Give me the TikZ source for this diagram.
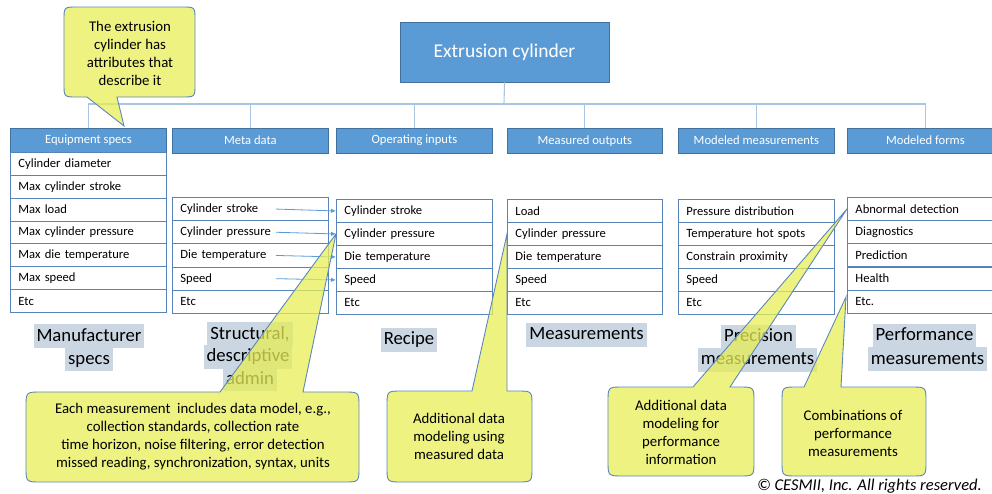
\documentclass[tikz,border=0pt]{standalone}
\usepackage{fontspec}
\setmainfont{Carlito}
\usetikzlibrary{arrows.meta,calc}
\definecolor{hdrblue}{HTML}{5B9BD5}
\definecolor{hdrline}{HTML}{41719C}
\definecolor{treeline}{HTML}{A9C5E2}
\definecolor{rowline}{HTML}{5683B8}
\definecolor{tagbg}{HTML}{CAD6E2}
\definecolor{notefill}{HTML}{E8EE56}
\definecolor{noteline}{HTML}{5B87BD}
\definecolor{linkblue}{HTML}{5B9BD5}
\begin{document}
\begin{tikzpicture}[x=1pt,y=-1pt,
  topbox/.style={draw=hdrline,fill=hdrblue,line width=0.8pt,text=white,
    minimum width=209pt,minimum height=60pt,inner sep=0pt,
    font=\fontsize{19.5pt}{23pt}\selectfont},
  hdr/.style={draw=hdrline,fill=hdrblue,line width=0.8pt,text=white,anchor=north west,
    minimum width=156pt,minimum height=24.5pt,inner sep=0pt,
    font=\fontsize{12.6pt}{15pt}\selectfont},
  row/.style={draw=rowline,fill=white,line width=0.9pt,anchor=north west,
    text width=140pt,inner xsep=8pt,inner ysep=0pt,minimum height=23pt,align=left,
    font=\fontsize{12.6pt}{15pt}\selectfont},
  tree/.style={draw=treeline,line width=1.1pt},
  link/.style={draw=linkblue,line width=0.8pt,-{Latex[length=5pt,width=4.5pt]}},
  tag/.style={fill=tagbg,inner xsep=3pt,inner ysep=1pt,text height=16pt,text depth=6pt,
    font=\fontsize{18.7pt}{22pt}\selectfont},
  note/.style={fill=notefill,fill opacity=0.75,draw=noteline,line width=0.9pt},
  notetext/.style={align=center,text=black,font=\fontsize{14.8pt}{18pt}\selectfont}]

\useasboundingbox (0,0) rectangle (992,493);
\clip (0,0) rectangle (992,493);

% root of the tree
\node[topbox] (top) at (504.5,52) {Extrusion cylinder};

% category headers
\node[hdr] (h1) at (10,128) {Equipment specs};
\node[hdr] (h2) at (172,128) {Meta data};
\node[hdr] (h3) at (336,128) {Operating inputs};
\node[hdr,minimum width=155pt] (h4) at (507,128) {Measured outputs};
\node[hdr] (h5) at (678,128) {Modeled measurements};
\node[hdr] (h6) at (847,128) {Modeled forms};

% branches from the root to each header
\coordinate (bus) at (504,104);
\draw[tree] (top.south) -- (bus);
\foreach \h in {h1,h2,h3,h4,h5,h6}
  \draw[tree] (bus) -| (\h.north);

% attribute lists
\foreach \t [count=\i] in {Cylinder diameter,Max cylinder stroke,Max load,
    Max cylinder pressure,Max die temperature,Max speed,Etc}
  \node[row,minimum height=22.86pt] (e\i) at (10,{152+22.86*(\i-1)}) {\t};
\foreach \t [count=\i] in {Cylinder stroke,Cylinder pressure,Die temperature,Speed,Etc}
  \node[row,minimum height=23.2pt] (m\i) at (172,{197+23.2*(\i-1)}) {\t};
\foreach \t [count=\i] in {Cylinder stroke,Cylinder pressure,Die temperature,Speed,Etc}
  \node[row] (o\i) at (336,{199+23*(\i-1)}) {\t};
\foreach \t [count=\i] in {Load,Cylinder pressure,Die temperature,Speed,Etc}
  \node[row,text width=139pt] (u\i) at (507,{199+23*(\i-1)}) {\t};
\foreach \t [count=\i] in {Pressure distribution,Temperature hot spots,
    Constrain proximity,Speed,Etc}
  \node[row] (p\i) at (678,{199+23*(\i-1)}) {\t};
\foreach \t [count=\i] in {Abnormal detection,Diagnostics,Prediction,Health,Etc.}
  \node[row] (f\i) at (847,{197+23.2*(\i-1)}) {\t};

% meta data feeding the operating inputs
\foreach \i in {1,...,4}
  \draw[link] ([xshift=-53pt]m\i.east) -- (o\i.west);

% highlighted column captions
\node[tag] (cap1a) at (89,336) {Manufacturer};
\node[tag] (cap1b) at (89,359) {specs};
\node[tag] (cap2a) at (250,334) {Structural,};
\node[tag] (cap2b) at (248,356.5) {descriptive};
\node[tag] (cap2c) at (250,379) {admin};
\node[tag] (cap3) at (409,339.5) {Recipe};
\node[tag] (cap4) at (586.5,334.5) {Measurements};
\node[tag] (cap5a) at (758.5,336.5) {Precision};
\node[tag] (cap5b) at (757.5,359.5) {measurements};
\node[tag] (cap6a) at (924.5,335.5) {Performance};
\node[tag] (cap6b) at (927.5,359) {measurements};

% speech bubbles
\path[note] (117,97) -- (124,126) -- (87,97) -- (77,97) .. controls (64,97) .. (64,84)
  -- (64,20) .. controls (64,7) .. (77,7) -- (182,7) .. controls (195,7) .. (195,20)
  -- (195,84) .. controls (195,97) .. (182,97) -- cycle;
\node[notetext] (n0) at (130,53.5) {The extrusion\\cylinder has\\attributes that\\describe it};

\path[note] (220,392) -- (o2.west) -- (303,392) -- (344,392) .. controls (359,392) .. (359,407)
  -- (359,467) .. controls (359,482) .. (344,482) -- (41,482) .. controls (26,482) .. (26,467)
  -- (26,407) .. controls (26,392) .. (41,392) -- cycle;
\node[notetext] (n1) at (193,437) {Each measurement~ includes data model, e.g.,\\
  collection standards, collection rate\\time horizon, noise filtering, error detection\\
  missed reading, synchronization, syntax, units};

\path[note] (472,391) -- (u2.west) -- (507,391) -- (517,391) .. controls (532,391) .. (532,406)
  -- (532,467) .. controls (532,482) .. (517,482) -- (402,482) .. controls (387,482) .. (387,467)
  -- (387,406) .. controls (387,391) .. (402,391) -- cycle;
\node[notetext] (n2) at (459,436.5) {Additional data\\modeling using\\measured data};

\path[note] (693,387) -- (f1.west) -- (730,387) -- (739,387) .. controls (754,387) .. (754,402)
  -- (754,461) .. controls (754,476) .. (739,476) -- (623,476) .. controls (608,476) .. (608,461)
  -- (608,402) .. controls (608,387) .. (623,387) -- cycle;
\node[notetext] (n3) at (681,432.5) {Additional data\\modeling for\\performance\\information};

\path[note] (804,387) -- (846,297) -- (841,387) -- (911,387) .. controls (926,387) .. (926,402)
  -- (926,461) .. controls (926,476) .. (911,476) -- (797,476) .. controls (782,476) .. (782,461)
  -- (782,402) .. controls (782,387) .. (797,387) -- cycle;
\node[notetext] (n4) at (853,433) {Combinations of\\performance\\measurements};

% copyright line
\node[anchor=base east,inner sep=0pt,font=\itshape\fontsize{16.5pt}{19pt}\selectfont]
  (copy) at (982,490) {© CESMII, Inc. All rights reserved.};
\end{tikzpicture}
\end{document}
